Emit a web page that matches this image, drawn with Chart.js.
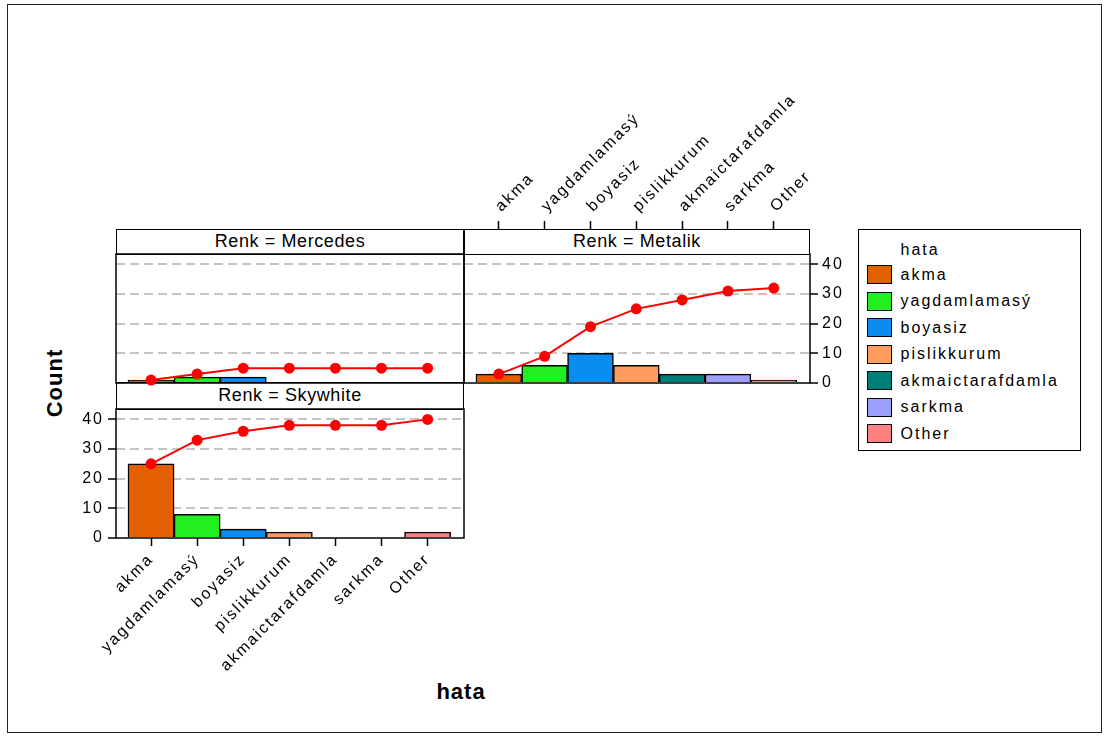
<!DOCTYPE html>
<html lang="tr">
<head>
<meta charset="utf-8">
<title>hata</title>
<script src="https://cdn.jsdelivr.net/npm/chart.js@4.4.1/dist/chart.umd.min.js"></script>
<style>
  html, body { margin: 0; padding: 0; background: #fff; }
  body { position: relative; width: 1108px; height: 736px; overflow: hidden;
         font-family: "Liberation Sans", Arial, sans-serif; color: #000; }
  .frame { position: absolute; left: 7px; top: 4px; width: 1095px; height: 729px;
           box-sizing: border-box; border: 1.5px solid #222; }
  canvas { position: absolute; }
  .strip { position: absolute; box-sizing: border-box; border: 1.5px solid #000; background: #fff;
           text-align: center; font-size: 18px; letter-spacing: 0.6px; white-space: nowrap; }
  .title { position: absolute; font-weight: bold; font-size: 22px; letter-spacing: 1px;
           white-space: nowrap; line-height: 26px; }
  .legend { position: absolute; left: 858px; top: 229px; width: 223px; height: 222px;
            box-sizing: border-box; border: 1.5px solid #000; background: #fff; }
  .legend .txt { position: absolute; left: 41.5px; font-size: 16px; letter-spacing: 2px;
                 line-height: 20px; white-space: nowrap; }
  .legend .sw { position: absolute; left: 7.5px; width: 25px; height: 19px;
                box-sizing: border-box; border: 1.5px solid #000; }
</style>
</head>
<body>
<div class="frame"></div>
<div class="legend" id="legend"></div>
<div class="title" style="left:55px;top:383px;transform:translate(-50%,-50%) rotate(-90deg)">Count</div>
<div class="title" style="left:461px;top:692px;transform:translate(-50%,-50%)">hata</div>

<canvas id="metalik" width="416" height="353" style="left:454px;top:40px"></canvas>
<div class="strip" style="left:464px;top:229px;width:346px;height:26px;line-height:23px">Renk = Metalik</div>
<div class="strip" style="left:116px;top:382px;width:348px;height:28px;line-height:25px">Renk = Skywhite</div>
<div class="strip" style="left:116px;top:229px;width:348px;height:26px;line-height:23px">Renk = Mercedes</div>
<canvas id="mercedes" width="368" height="149" style="left:106px;top:244px"></canvas>
<canvas id="skywhite" width="448" height="309" style="left:26px;top:399px"></canvas>

<script>
// defect categories (x axis) and their fill colours
const categories = ['akma', 'yagdamlamasý', 'boyasiz', 'pislikkurum', 'akmaictarafdamla', 'sarkma', 'Other'];
const barColors  = ['#E26000', '#22EE22', '#0A8CF0', '#FF9B5E', '#007F78', '#9E9EFF', '#FF8080'];

// counts per colour group
const mercedesCounts = [1, 2, 2, 0, 0, 0, 0];
const metalikCounts  = [3, 6, 10, 6, 3, 3, 1];
const skywhiteCounts = [25, 8, 3, 2, 0, 0, 2];

// running totals (red pareto line)
const mercedesCumulative = [1, 3, 5, 5, 5, 5, 5];
const metalikCumulative  = [3, 9, 19, 25, 28, 31, 32];
const skywhiteCumulative = [25, 33, 36, 38, 38, 38, 40];

// count axis
const countTicks = [0, 10, 20, 30, 40];
const countMax = 43.5;

const legendTitle = 'hata';
const FONT = '"Liberation Sans", Arial, sans-serif';

// legend
(function buildLegend() {
  const box = document.getElementById('legend');
  const head = document.createElement('div');
  head.className = 'txt';
  head.style.top = (250 - 10 - 230.5) + 'px';
  head.textContent = legendTitle;
  box.appendChild(head);
  categories.forEach((name, i) => {
    const cy = 275 + i * 26.5;
    const sw = document.createElement('div');
    sw.className = 'sw';
    sw.style.top = (cy - 9.5 - 230.5) + 'px';
    sw.style.background = barColors[i];
    box.appendChild(sw);
    const t = document.createElement('div');
    t.className = 'txt';
    t.style.top = (cy - 10 - 230.5) + 'px';
    t.textContent = name;
    box.appendChild(t);
  });
})();

// black frame around each panel's plotting region
const panelFrame = {
  id: 'panelFrame',
  beforeDatasetsDraw(chart) {
    const { ctx, chartArea: a } = chart;
    ctx.save();
    ctx.strokeStyle = '#000';
    ctx.lineWidth = 1.5;
    ctx.strokeRect(a.left, a.top, a.right - a.left, a.bottom - a.top);
    ctx.restore();
  }
};

// wider tracking for the tick labels
const tickTracking = {
  id: 'tickTracking',
  beforeUpdate(chart) { chart.ctx.letterSpacing = '2px'; },
  beforeDraw(chart) { chart.ctx.letterSpacing = '2px'; }
};

// fixed axis box sizes, no extra room asked for by the tick labels
function fixBox(s, prop, size) {
  s[prop] = size;
  s.paddingTop = 0; s.paddingBottom = 0; s.paddingLeft = 0; s.paddingRight = 0;
}

function makePanel(id, counts, cumulative, o) {
  const x = {
    type: 'linear',
    min: -0.76,
    max: 6.79,
    offset: false,
    position: o.xPos || 'bottom',
    display: !!o.xPos,
    grid: { offset: false, drawOnChartArea: false, drawTicks: true, tickLength: o.xTickLen || 8,
            tickColor: '#000', tickWidth: 1.5 },
    border: { display: false },
    ticks: {
      stepSize: 1, includeBounds: false, autoSkip: false,
      minRotation: 45, maxRotation: 45,
      padding: o.xPad || 4, labelOffset: o.xLabelOffset || 0,
      color: '#000', font: { family: FONT, size: 16 },
      callback: (v) => (categories[v] !== undefined ? categories[v] : '')
    }
  };
  if (o.xPos) x.afterFit = (s) => fixBox(s, 'height', o.xHeight);

  const y = {
    type: 'linear',
    min: 0,
    max: countMax,
    position: o.yPos || 'left',
    grid: {
      color: (c) => (c.tick && c.tick.value === 0 ? 'rgba(0,0,0,0)' : '#c4c4c4'),
      lineWidth: 2,
      drawTicks: !!o.yPos, tickLength: 8, tickColor: '#000', tickWidth: 1.5
    },
    border: { display: false, dash: [9, 5] },
    afterBuildTicks: (s) => { s.ticks = countTicks.map((v) => ({ value: v })); },
    ticks: {
      display: !!o.yPos, padding: 4, includeBounds: false,
      color: '#000', font: { family: FONT, size: 16 }
    },
    afterFit: (s) => fixBox(s, 'width', o.yWidth || 0)
  };

  return new Chart(document.getElementById(id), {
    type: 'bar',
    data: {
      datasets: [
        {
          type: 'line',
          data: cumulative.map((v, i) => ({ x: i, y: v })),
          borderColor: '#ff0000', borderWidth: 2, tension: 0,
          pointRadius: 5.5, pointBackgroundColor: '#ff0000',
          pointBorderColor: '#ff0000', pointBorderWidth: 0,
          clip: false, order: 1
        },
        {
          type: 'bar',
          data: counts.map((v, i) => ({ x: i, y: v })),
          backgroundColor: barColors, borderColor: '#000', borderWidth: 1.5,
          barPercentage: 1, categoryPercentage: 1, order: 2
        }
      ]
    },
    options: {
      responsive: false,
      animation: false,
      events: [],
      layout: { padding: o.padding, autoPadding: false },
      plugins: { legend: { display: false }, tooltip: { enabled: false } },
      scales: { x, y }
    },
    plugins: [panelFrame, tickTracking]
  });
}

makePanel('metalik', metalikCounts, metalikCumulative, {
  xPos: 'top', xHeight: 214, xTickLen: 33, xPad: 5, xLabelOffset: 13,
  yPos: 'right', yWidth: 50,
  padding: { left: 10, right: 10, top: 0, bottom: 10 }
});

makePanel('mercedes', mercedesCounts, mercedesCumulative, {
  padding: { left: 10, right: 10, top: 10, bottom: 10 }
});

makePanel('skywhite', skywhiteCounts, skywhiteCumulative, {
  xPos: 'bottom', xHeight: 170, xTickLen: 8, xPad: 4,
  yPos: 'left', yWidth: 90,
  padding: { left: 0, right: 10, top: 10, bottom: 0 }
});
</script>
</body>
</html>
